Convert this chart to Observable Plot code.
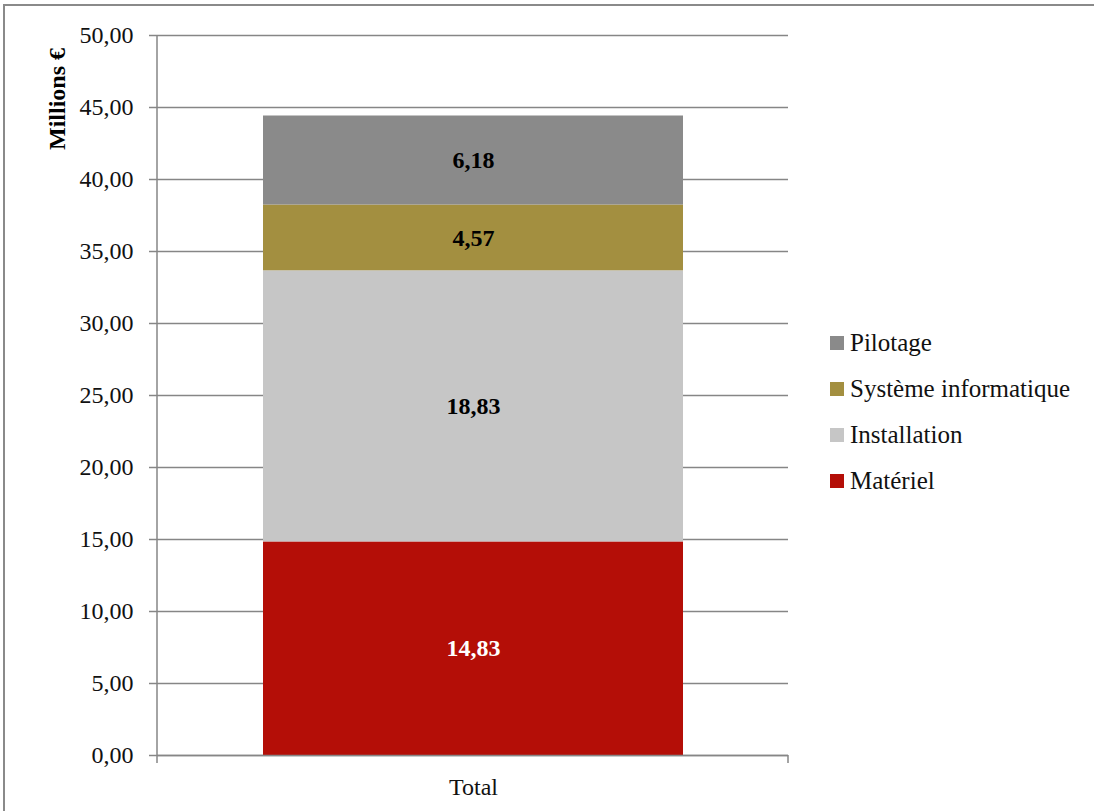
<!DOCTYPE html>
<html>
<head>
<meta charset="utf-8">
<script src="https://cdn.jsdelivr.net/npm/d3@7"></script>
<script src="https://cdn.jsdelivr.net/npm/@observablehq/plot@0.6"></script>
<style>
  html, body { margin: 0; padding: 0; background: #fff; overflow: hidden; }
  body { width: 1094px; height: 811px; position: relative; font-family: "Liberation Serif", "DejaVu Serif", serif; }
  #frame { position: absolute; left: 3px; top: 4px; width: 1200px; height: 900px; border: 2px solid #8a8a8a; box-sizing: border-box; }
  #chart { position: absolute; left: 0; top: 0; }
  #ylabel { position: absolute; left: 57px; top: 99px; transform: translate(-50%, -50%) rotate(-90deg); font-family: "Liberation Serif", serif; font-weight: bold; font-size: 24px; white-space: nowrap; color: #000; }
  #legend { position: absolute; left: 830px; top: 320px; font-family: "Liberation Serif", serif; font-size: 25px; color: #111; }
  #legend .row { height: 46px; display: flex; align-items: center; }
  #legend .sw { width: 14px; height: 14px; margin-right: 6px; }
</style>
</head>
<body>
<div id="frame"></div>
<div id="chart"></div>
<div id="ylabel">Millions €</div>
<div id="legend"></div>
<script>
const categories = ["Matériel", "Installation", "Système informatique", "Pilotage"];
const values = [14.83, 18.83, 4.57, 6.18];
const colors = ["#b40e07", "#c6c6c6", "#a38f40", "#8a8a8a"];
const labelColors = ["#ffffff", "#000000", "#000000", "#000000"];
const group = ["Total"];
const yTicks = [0, 5, 10, 15, 20, 25, 30, 35, 40, 45, 50];

const data = categories.map((c, i) => ({ group: group[0], category: c, value: values[i] }));
const fmt = d => d.toFixed(2).replace(".", ",");

const plot = Plot.plot({
  width: 1094,
  height: 811,
  marginLeft: 157,
  marginRight: 306,
  marginTop: 35,
  marginBottom: 56,
  style: { fontFamily: "'Liberation Serif', 'DejaVu Serif', serif", fontSize: "24px", background: "transparent", color: "#111" },
  x: { domain: group, padding: 0.2, label: null },
  y: { domain: [0, 50], label: null },
  color: { domain: categories, range: colors },
  marks: [
    Plot.gridY(yTicks, { stroke: "#868686", strokeWidth: 1.5, strokeOpacity: 1 }),
    Plot.axisY(yTicks, { tickSize: 8, tickPadding: 16, tickFormat: fmt, stroke: "#868686", strokeWidth: 1.5, fontSize: 24, label: null }),
    Plot.axisX({ tickSize: 0, tickPadding: 22, fontSize: 24, label: null }),
    Plot.barY(data, Plot.stackY({ x: "group", y: "value", fill: "category", order: categories })),
    Plot.ruleY([0], { stroke: "#868686", strokeWidth: 1.5 }),
    Plot.text(data, Plot.stackY({ x: "group", y: "value", order: categories, text: d => fmt(d.value), fill: d => labelColors[categories.indexOf(d.category)], fontWeight: "bold", fontSize: 24 }))
  ]
});

// y axis line
const svg = d3.select(plot);
svg.append("line")
  .attr("x1", 157).attr("x2", 157).attr("y1", 35).attr("y2", 755)
  .attr("stroke", "#868686").attr("stroke-width", 1.5);
// category boundary ticks on x axis
[157, 788].forEach(x => svg.append("line").attr("x1", x).attr("x2", x).attr("y1", 755).attr("y2", 763).attr("stroke", "#868686").attr("stroke-width", 1.5));

document.getElementById("chart").appendChild(plot);

const legend = document.getElementById("legend");
categories.slice().reverse().forEach(c => {
  const row = document.createElement("div");
  row.className = "row";
  const sw = document.createElement("div");
  sw.className = "sw";
  sw.style.background = colors[categories.indexOf(c)];
  const t = document.createElement("span");
  t.textContent = c;
  row.appendChild(sw);
  row.appendChild(t);
  legend.appendChild(row);
});
</script>
</body>
</html>
